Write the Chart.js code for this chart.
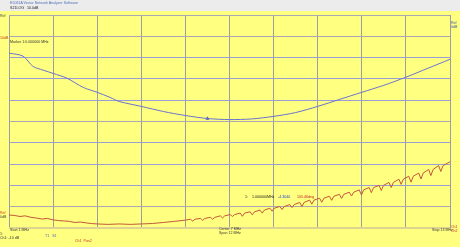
<!DOCTYPE html>
<html><head><meta charset="utf-8">
<script src="https://cdn.jsdelivr.net/npm/chart.js@4/dist/chart.umd.min.js"></script>
<style>
html,body{margin:0;padding:0;background:#ffff80;overflow:hidden}
#wrap{position:relative;width:460px;height:247px}
canvas{position:absolute;left:0;top:0}
.t{position:absolute;font-family:"Liberation Sans",Arial,sans-serif;font-size:3.6px;line-height:1;white-space:pre;color:#333}
</style></head><body>
<div id="wrap"><canvas id="c" width="460" height="247"></canvas>
<div class="t" style="left:10px;top:2px;color:#5070b8">E5061A Vector Network Analyzer Software</div>
<div class="t" style="left:10px;top:7px;color:#222">S21LOG   10.0dB</div>
<div class="t" style="left:0px;top:15px;color:#444">Ref</div>
<div class="t" style="left:0px;top:37px;color:#c04020">10dB</div>
<div class="t" style="left:10px;top:41px;color:#333">Marker 1:0.000000 MHz</div>
<div class="t" style="left:451px;top:22px;color:#4050b0">Ref</div>
<div class="t" style="left:451px;top:25.5px;color:#4050b0">0dB</div>
<div class="t" style="left:0px;top:212px;color:#d04020">Ref</div>
<div class="t" style="left:0px;top:215.5px;color:#444">0dB</div>
<div class="t" style="left:10px;top:228.5px;color:#333">Start 1 MHz</div>
<div class="t" style="left:219px;top:227.5px;color:#333">Center 7 MHz</div>
<div class="t" style="left:219px;top:231.5px;color:#333">Span 12 MHz</div>
<div class="t" style="left:432px;top:228.5px;color:#333">Stop 13 MHz</div>
<div class="t" style="left:451px;top:226px;color:#c03030">Ch1</div>
<div class="t" style="left:451px;top:229.5px;color:#c03030">Ch2</div>
<div class="t" style="left:0px;top:233px;color:#333">1:</div>
<div class="t" style="left:0px;top:237px;color:#333">Ch1: -10 dB</div>
<div class="t" style="left:45px;top:235px;color:#5060b0">T1   S1</div>
<div class="t" style="left:75px;top:240px;color:#c03030">Ch1  Pos2</div>
<div class="t" style="left:245px;top:196px;color:#222">1:</div>
<div class="t" style="left:252px;top:196px;color:#222">1.000000MHz</div>
<div class="t" style="left:278px;top:196px;color:#2040d0">-4.3040</div>
<div class="t" style="left:297px;top:196px;color:#c02020">105.46deg</div>
</div>
<script>
const freqTicks = [1,2.2,3.4,4.6,5.8,7,8.2,9.4,10.6,11.8,13];
const levelTicks = [0,-10,-20,-30,-40,-50,-60,-70,-80,-90,-100];

const blueFreq = [1.0,1.38,1.65,1.93,2.2,2.58,3.02,3.4,3.75,4.0,4.6,5.2,5.8,6.4,7.0,7.6,8.2,8.8,9.4,10.0,10.6,11.2,11.8,12.4,13.0];
const blueVals = [-17.9,-19.3,-24.1,-25.9,-27.4,-29.7,-34.0,-36.3,-38.7,-40.6,-42.9,-45.3,-47.2,-48.6,-49.1,-48.8,-47.6,-45.8,-42.9,-39.6,-36.3,-33.0,-29.2,-25.0,-20.8];

const redFreqLeft = [1.0,1.14,1.30,1.44,1.60,1.74,1.90,2.04,2.20,2.34,2.50,2.64,2.80,2.94,3.10,3.24,3.40,3.70,4.00,4.30,4.60,4.90,5.20,5.50,5.80];
const redValsLeft = [-93.9,-94.1,-94.6,-94.3,-95.0,-95.3,-95.8,-95.5,-96.2,-96.5,-96.7,-96.9,-97.4,-97.2,-97.6,-97.9,-98.1,-98.3,-98.1,-98.3,-98.1,-97.9,-97.4,-96.9,-96.3];

// ripple notches: frequency of each notch, level just beside it, level at its bottom
const notchFreq = [6.00,6.27,6.54,6.81,7.08,7.35,7.62,7.89,8.16,8.43,8.70,8.97,9.24,9.51,9.78,10.05,10.32,10.59,10.86,11.13,11.40,11.67,11.94,12.21,12.48,12.75];
const notchTop = [-95.9,-95.5,-95.0,-94.3,-93.7,-93.0,-92.4,-91.6,-90.7,-89.9,-89.0,-88.0,-86.9,-86.0,-85.1,-84.2,-83.2,-82.1,-81.0,-80.0,-78.6,-77.1,-75.7,-74.2,-72.5,-70.7];
const notchBottom = [-96.8,-96.4,-95.9,-95.3,-94.6,-94.5,-93.8,-93.0,-92.1,-91.3,-90.4,-89.9,-88.8,-87.9,-87.0,-86.1,-85.0,-84.5,-83.4,-82.4,-81.0,-79.5,-78.5,-77.0,-75.4,-73.5];
const redEndFreq = [13.0];
const redEndVals = [-68.9];

const markerFreq = [6.4];
const markerVals = [-48.6];

const bluePts = blueFreq.map((f,i)=>({x:f,y:blueVals[i]}));
const redPts = redFreqLeft.map((f,i)=>({x:f,y:redValsLeft[i]}));
notchFreq.forEach((f,i)=>{
  redPts.push({x:f-0.06,y:notchTop[i]});
  redPts.push({x:f,y:notchBottom[i]});
  redPts.push({x:f+0.06,y:notchTop[i]});
});
redEndFreq.forEach((f,i)=>redPts.push({x:f,y:redEndVals[i]}));
const markerPts = markerFreq.map((f,i)=>({x:f,y:markerVals[i]}));

const bg = {
  id:'bg',
  beforeDraw(chart){
    const c = chart.ctx;
    c.save();
    c.fillStyle = '#ffff80';
    c.fillRect(0,0,chart.width,chart.height);
    c.fillStyle = '#ececec';
    c.fillRect(0,0,chart.width,11);
    c.restore();
  }
};

const hColor = v => {
  if (v === -100) return '#dcd490';
  if (v === 0 || v === -10 || v === -50 || v === -90) return '#a8a8b4';
  return '#9c9cd8';
};

new Chart(document.getElementById('c'), {
  type:'scatter',
  data:{datasets:[
    {data:bluePts, showLine:true, borderColor:'#6a74d0', borderWidth:1, pointRadius:0, tension:0.3},
    {data:redPts, showLine:true, borderColor:'#c4583c', borderWidth:1, pointRadius:0, tension:0},
    {data:markerPts, showLine:false, pointStyle:'triangle', pointRadius:1.8, backgroundColor:'#4050c0', borderColor:'#4050c0', borderWidth:0.5}
  ]},
  options:{
    responsive:false, animation:false, events:[],
    layout:{padding:{left:9,right:10,top:15,bottom:19}},
    plugins:{legend:{display:false}, tooltip:{enabled:false}},
    scales:{
      x:{type:'linear', min:1, max:13,
        afterBuildTicks(s){ s.ticks = freqTicks.map(v=>({value:v})); },
        afterFit(s){ s.height = 0; },
        ticks:{display:false}, border:{display:false},
        grid:{color:'#9c9ca6', lineWidth:1, drawTicks:false}},
      y:{type:'linear', min:-100, max:0,
        afterBuildTicks(s){ s.ticks = levelTicks.map(v=>({value:v})); },
        afterFit(s){ s.width = 0; },
        ticks:{display:false}, border:{display:false},
        grid:{color:ctx=>hColor(ctx.tick.value), lineWidth:ctx=>ctx.tick.value===-100?2:1, drawTicks:false}}
    }
  },
  plugins:[bg]
});
</script>
</body></html>
